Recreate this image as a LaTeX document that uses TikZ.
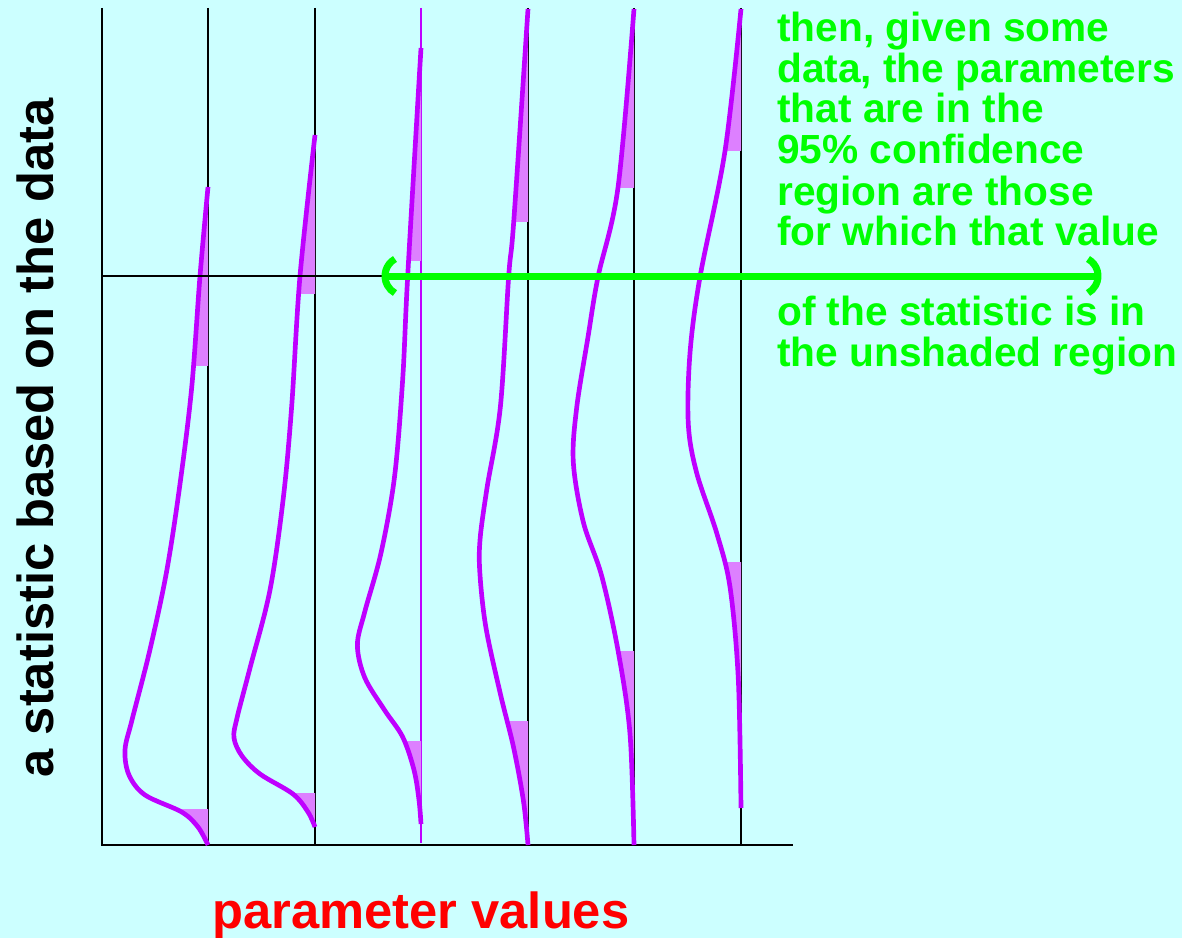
\documentclass[tikz,border=0pt]{standalone}
\usepackage{fontspec}
\setmainfont{Liberation Sans}
\definecolor{bg}{RGB}{204,255,255}
\definecolor{purp}{RGB}{191,0,255}
\definecolor{shadec}{RGB}{221,128,255}
\definecolor{grn}{RGB}{0,255,0}
\definecolor{rd}{RGB}{255,0,0}
\newcommand\dcurve[6]{%
  \begin{scope}
    \clip (#2-200,#3) rectangle (#2,#4);
    \fill[shadec] plot[smooth,tension=0.55] coordinates {#1} -- cycle;
  \end{scope}
  \begin{scope}
    \clip (#2-200,#5) rectangle (#2,#6);
    \fill[shadec] plot[smooth,tension=0.55] coordinates {#1} -- cycle;
  \end{scope}
  \draw[dens] plot[smooth,tension=0.55] coordinates {#1};
}
\begin{document}
\begin{tikzpicture}[x=0.75pt,y=-0.75pt,
  axis/.style={draw=black, line width=2pt},
  vline/.style={draw=black, line width=1.5pt},
  dens/.style={draw=purp, line width=3.5pt, line join=round},
  garrow/.style={draw=grn, line width=5.25pt},
  gtext/.style={text=grn, font=\fontsize{30.5}{31}\selectfont\bfseries, anchor=base west, inner sep=0pt},
  bigtext/.style={font=\fontsize{38}{40}\selectfont\bfseries, anchor=base, inner sep=0pt}]
\fill[bg] (0,0) rectangle (1182,938);
\useasboundingbox (0,0) rectangle (1182,938);

% axes
\coordinate (ytop) at (102,8);
\coordinate (O) at (102,845);
\coordinate (xend) at (793,845);
\draw[axis] (ytop) -- (O) -- (xend);

% parameter lines
\foreach \x in {208,315,528,634,741} {
  \draw[vline] (\x,8) -- (\x,845);
}
\draw[draw=purp, line width=1.8pt] (421,8) -- (421,843);

% densities
\dcurve{(208,187) (200,276) (191.7,387.5) (180,484) (166.7,571) (150,649.5) (132,720) (125,750) (129,775) (145,795) (181.7,812) (198,827) (208,845)}{208}{187}{365}{809}{846}
\dcurve{(315,135) (300,276) (291.7,406) (283.3,498) (270,590) (250,668) (237,718) (234,738) (242,756) (260,774) (293,794) (308,812) (315,827)}{315}{135}{293}{793}{828}
\dcurve{(421,48) (407.7,276) (402.7,379) (394.5,477) (381,553) (364.7,612) (357.4,645) (364.7,677.5) (384.5,710) (402.7,737) (414,770) (419,800) (421,824)}{421}{48}{260}{741.5}{825}
\dcurve{(528,9) (513.7,222) (508.7,276) (500.4,406.5) (487,488) (480,540) (480,575) (486,628) (500.4,694) (513.7,748) (523.6,802) (528,845)}{528}{9}{222}{721}{846}
\dcurve{(634,9) (618,187.5) (598,277) (588,337) (576.7,407.6) (573.3,462) (583.3,522) (601.7,576) (618.3,652) (630,734) (634,845)}{634}{9}{187.5}{651}{846}
\dcurve{(741,9) (725,151) (700,277) (690,353) (688.3,424) (696.7,473) (716.7,533) (730,587) (738.3,679) (741,808)}{741}{9}{151}{562.5}{809}

% observed statistic line and green arrow
\coordinate (AL) at (385,276);
\coordinate (AR) at (1098,276);
\coordinate (H0) at (102,276);
\draw[draw=black, line width=1.3pt] (H0) -- (AL);
\draw[garrow] (AL) -- (AR);
\draw[garrow] (AL) ++(10,-17) arc[start angle=241, end angle=119, radius=19.45];
\draw[garrow] (AR) ++(-10,-17) arc[start angle=-61, end angle=61, radius=19.45];

% green text
\node[gtext] (g1) at (777,42) {then, given some};
\node[gtext] (g2) at (777,83) {data, the parameters};
\node[gtext] (g3) at (777,123) {that are in the};
\node[gtext] (g4) at (777,164) {95\% confidence};
\node[gtext] (g5) at (777,205) {region are those};
\node[gtext] (g6) at (777,246) {for which that value};
\node[gtext] (g7) at (777,325) {of the statistic is in};
\node[gtext] (g8) at (777,366) {the unshaded region};

% axis labels
\node[bigtext, text=rd] (xlab) at (421,928) {parameter values};
\node[bigtext, text=black, rotate=90] (ylab) at (53,438) {a statistic based on the data};
\end{tikzpicture}
\end{document}
